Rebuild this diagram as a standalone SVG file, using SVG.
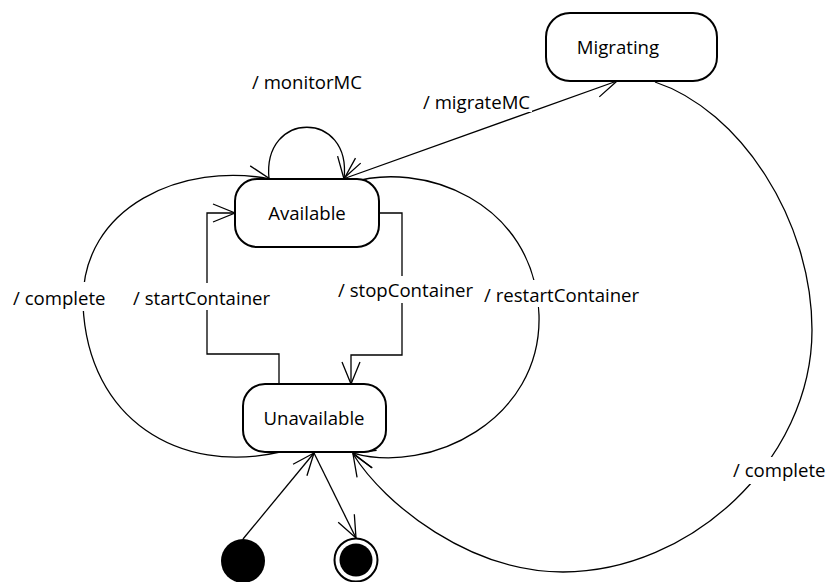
<svg xmlns="http://www.w3.org/2000/svg" width="828" height="582" viewBox="0 0 828 582">
  <style>
    .state { fill: #ffffff; stroke: #000000; stroke-width: 2; }
    .name { font-family: "Open Sans", "Liberation Sans", sans-serif; font-size: 18.6px; fill: #000000; text-anchor: middle; }
    .edge { fill: none; stroke: #000000; stroke-width: 1.3; marker-end: url(#arrow); }
    .label { font-family: "Open Sans", "Liberation Sans", sans-serif; font-size: 18.6px; fill: #000000; }
    .gap { fill: #ffffff; stroke: none; }
  </style>
  <defs>
    <marker id="arrow" markerUnits="userSpaceOnUse" markerWidth="26" markerHeight="22" viewBox="-1 -1 26 22" refX="22" refY="9" orient="auto-start-reverse">
      <path d="M0,0 L22,9 L0,18" fill="none" stroke="#000000" stroke-width="1.3"/>
    </marker>
  </defs>

  <rect width="828" height="582" fill="#ffffff"/>

  <!-- transitions -->
  <g id="connectors">
    <!-- Available self loop: monitorMC -->
    <path class="edge" d="M269,179 C262,110 352,110 344,179"/>
    <!-- Available <-> Migrating: migrateMC -->
    <path class="edge" style="marker-start:url(#arrow)" d="M343,179 L617,81"/>
    <!-- Unavailable -> Available: complete (left arc) -->
    <path class="edge" d="M280,452 C180,475 88,420 83,305 C80,205 185,162 270,179"/>
    <!-- Unavailable -> Available: startContainer -->
    <path class="edge" d="M279,384 V354 H207 V213 H235"/>
    <!-- Available -> Unavailable: stopContainer -->
    <path class="edge" d="M379,213 H402 V355 H351 V384"/>
    <!-- Available -> Unavailable: restartContainer -->
    <path class="edge" d="M350,183 C420,160 535,200 539,315 C542,420 430,475 353,453"/>
    <!-- Migrating -> Unavailable: complete (outer arc) -->
    <path class="edge" d="M655,82 C740,110 812,220 812,330 C812,460 690,572 563,572 C470,572 385,505 353,454"/>
    <!-- initial -> Unavailable -->
    <path class="edge" d="M243,539 L314,453"/>
    <!-- Unavailable -> final -->
    <path class="edge" d="M314,453 L356,538"/>
  </g>

  <!-- transition labels, each on a white ground that breaks the line beneath -->
  <g id="labels">
    <text class="label" x="252" y="89">/ monitorMC</text>
    <rect class="gap" x="422" y="93" width="110" height="19"/>
    <text class="label" x="423" y="109">/ migrateMC</text>
    <rect class="gap" x="11" y="282" width="98" height="29"/>
    <text class="label" x="13" y="305">/ complete</text>
    <rect class="gap" x="131" y="283" width="144" height="27"/>
    <text class="label" x="133" y="305">/ startContainer</text>
    <rect class="gap" x="336" y="276" width="138" height="27"/>
    <text class="label" x="338" y="297">/ stopContainer</text>
    <rect class="gap" x="482" y="280" width="158" height="27"/>
    <text class="label" x="484" y="302">/ restartContainer</text>
    <rect class="gap" x="731" y="457" width="97" height="27"/>
    <text class="label" x="733" y="477">/ complete</text>
  </g>

  <!-- states -->
  <g id="available">
    <rect class="state" x="235" y="179" width="144" height="68" rx="22" ry="22"/>
    <text class="name" x="307" y="220">Available</text>
  </g>
  <g id="unavailable">
    <rect class="state" x="243" y="384" width="143" height="68" rx="22" ry="22"/>
    <text class="name" x="314" y="425">Unavailable</text>
  </g>
  <g id="migrating">
    <rect class="state" x="546" y="13" width="171" height="68" rx="24" ry="24"/>
    <text class="name" x="618" y="54">Migrating</text>
  </g>
  <g id="initial">
    <circle cx="243" cy="561" r="22" fill="#000000"/>
  </g>
  <g id="final">
    <circle cx="356" cy="560" r="21.5" fill="#ffffff" stroke="#000000" stroke-width="2"/>
    <circle cx="356" cy="560" r="16.5" fill="#000000"/>
  </g>
</svg>
